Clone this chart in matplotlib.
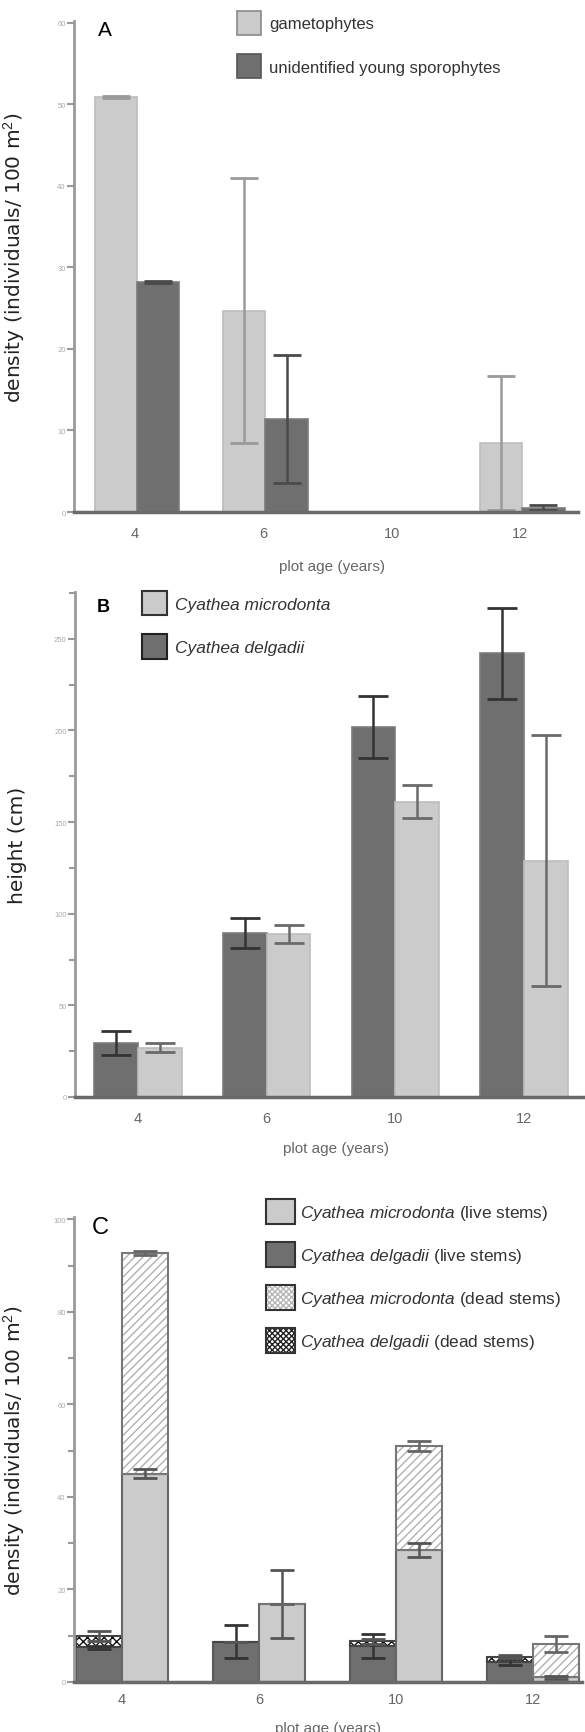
import matplotlib
matplotlib.use("Agg")
import matplotlib.pyplot as plt
import numpy as np
from matplotlib.patches import Patch

plt.rcParams["font.family"] = ["Liberation Sans", "DejaVu Sans"]
plt.rcParams["mathtext.fontset"] = "custom"
plt.rcParams["mathtext.rm"] = "Liberation Sans"
plt.rcParams["mathtext.it"] = "Liberation Sans:italic"
plt.rcParams["hatch.linewidth"] = 1.0

# data
ages = ["4", "6", "10", "12"]

# A: density of gametophytes / young sporophytes
gameto = [50.9, 24.7, 0.0, 8.5]
gameto_err = [0.1, 16.2, 0.0, 8.2]
spor = [28.2, 11.4, 0.0, 0.5]
spor_err = [0.1, 7.8, 0.0, 0.3]

# B: height (cm)
delg_h = [29.5, 89.5, 202.0, 242.0]
delg_h_err = [6.5, 8.0, 17.0, 25.0]
micro_h = [27.0, 89.0, 161.0, 129.0]
micro_h_err = [2.5, 5.0, 9.0, 68.7]

# C: stem density
delg_live = [7.5, 8.7, 7.7, 4.3]
delg_live_err = [0.3, 3.6, 2.6, 0.6]
delg_dead = [2.4, 0.0, 1.1, 1.2]
delg_tot_err = [1.1, 0.0, 0.5, 0.4]
micro_live = [45.0, 16.9, 28.6, 1.0]
micro_live_err = [1.0, 7.4, 1.5, 0.3]
micro_dead = [47.7, 0.0, 22.4, 7.2]
micro_tot_err = [0.5, 0.0, 1.1, 1.7]

LIGHT = "#cbcbcb"
DARK = "#6f6f6f"
W, H = 585, 1733
YLAB = dict(fontsize=14.5, color="#222222", family=["DejaVu Sans"])

fig = plt.figure(figsize=(W / 100, H / 100), dpi=100)


def style_axes(ax, ymax, major, minor=None):
    for s in ["top", "right"]:
        ax.spines[s].set_visible(False)
    ax.spines["left"].set_color("#9a9a9a")
    ax.spines["left"].set_linewidth(2)
    ax.spines["bottom"].set_color("#6a6a6a")
    ax.spines["bottom"].set_linewidth(2.5)
    ax.set_ylim(0, ymax)
    ax.set_yticks(np.arange(0, ymax + 0.01, major))
    if minor:
        ax.set_yticks(np.arange(0, ymax + 0.01, minor), minor=True)
        ax.tick_params(axis="y", which="minor", length=4, width=1.5, color="#999999")
    ax.tick_params(axis="y", which="major", length=5, width=1.5, color="#999999",
                   labelsize=5.5, labelcolor="#aaaaaa", pad=1)
    ax.tick_params(axis="x", length=0, labelsize=10.5, labelcolor="#666666", pad=10)
    ax.set_xticks(np.arange(len(ages)))
    ax.set_xticklabels(ages)
    ax.set_xlabel("plot age (years)", fontsize=11, color="#666666")


x = np.arange(len(ages))

# ---------- A ----------
axA = fig.add_axes([74 / W, 1 - 513 / H, 504 / W, 491 / H])
bw = 0.33
axA.bar(x - bw / 2 + 0.015, gameto, bw, color=LIGHT, edgecolor="#bdbdbd", lw=1.2,
        label="gametophytes")
axA.bar(x + bw / 2 + 0.015, spor, bw, color=DARK, edgecolor="#7c7c7c", lw=1.2,
        label="unidentified young sporophytes")
axA.errorbar(x - bw / 2 + 0.015, gameto, yerr=gameto_err, fmt="none", ecolor="#9a9a9a",
             elinewidth=1.8, capsize=10, capthick=2)
axA.errorbar(x + bw / 2 + 0.015, spor, yerr=spor_err, fmt="none", ecolor="#4a4a4a",
             elinewidth=1.8, capsize=10, capthick=2)
axA.set_xlim(-0.475, 3.45)
style_axes(axA, 60.2, 10)
axA.set_ylabel("density (individuals/ 100 m$^2$)", **YLAB)
axA.yaxis.set_label_coords(-0.093, 0.52)
axA.xaxis.set_label_coords(0.512, -0.096)
fig.text(105 / W, 1 - 30 / H, "A", fontsize=15, ha="center", va="center")
legA = [Patch(facecolor=LIGHT, edgecolor="#8a8a8a", lw=1.2, label="gametophytes"),
        Patch(facecolor=DARK, edgecolor="#555555", lw=1.2,
              label="unidentified young sporophytes")]
fig.legend(handles=legA, loc="upper left", bbox_to_anchor=(237 / W, 1 - 12 / H),
           frameon=False, fontsize=12, handlelength=1.44, handleheight=1.86,
           labelspacing=1.14, handletextpad=0.48, borderpad=0, borderaxespad=0,
           labelcolor="#333333")

# ---------- B ----------
axB = fig.add_axes([75 / W, 1 - 1098 / H, 510 / W, 505 / H])
bw = 0.34
axB.bar(x - bw / 2, delg_h, bw, color=DARK, edgecolor="#7c7c7c", lw=1.2)
axB.bar(x + bw / 2, micro_h, bw, color=LIGHT, edgecolor="#bdbdbd", lw=1.2)
axB.errorbar(x - bw / 2, delg_h, yerr=delg_h_err, fmt="none", ecolor="#333333",
             elinewidth=1.8, capsize=11, capthick=2)
axB.errorbar(x + bw / 2, micro_h, yerr=micro_h_err, fmt="none", ecolor="#6a6a6a",
             elinewidth=1.8, capsize=11, capthick=2)
axB.set_xlim(-0.49, 3.475)
style_axes(axB, 275.5, 50, 25)
axB.set_ylabel("height (cm)", **YLAB)
axB.yaxis.set_label_coords(-0.094, 0.5)
axB.xaxis.set_label_coords(0.512, -0.087)
fig.text(103 / W, 1 - 608 / H, "B", fontsize=13, fontweight="bold", ha="center", va="center")
legB = [Patch(facecolor=LIGHT, edgecolor="#333333", lw=1.5, label="Cyathea microdonta"),
        Patch(facecolor=DARK, edgecolor="#222222", lw=1.5, label="Cyathea delgadii")]
fig.legend(handles=legB, loc="upper left", bbox_to_anchor=(142 / W, 1 - 592 / H),
           frameon=False, prop={"size": 12.5, "style": "italic"}, handlelength=1.43,
           handleheight=1.79, labelspacing=1.09, handletextpad=0.46, borderpad=0,
           borderaxespad=0, labelcolor="#333333")

# ---------- C ----------
axC = fig.add_axes([74 / W, 1 - 1683 / H, 508 / W, 465 / H])
bw = 0.335
xd = x - bw / 2
xm = x + bw / 2
delg_tot = np.array(delg_live) + np.array(delg_dead)
micro_tot = np.array(micro_live) + np.array(micro_dead)
axC.bar(xd, delg_live, bw, color=DARK, edgecolor="#5a5a5a", lw=1.5)
axC.bar(xd, delg_dead, bw, bottom=delg_live, color="white", edgecolor="#111111",
        lw=0, hatch="xxxx")
axC.bar(xd, delg_dead, bw, bottom=delg_live, fill=False, edgecolor="#444444", lw=1.5)
axC.bar(xm, micro_live, bw, color=LIGHT, edgecolor="#666666", lw=1.5)
axC.bar(xm, micro_dead, bw, bottom=micro_live, color="white", edgecolor="#b0b0b0",
        lw=0, hatch="////")
axC.bar(xm, micro_dead, bw, bottom=micro_live, fill=False, edgecolor="#777777", lw=1.5)
axC.errorbar(xd, delg_live, yerr=delg_live_err, fmt="none", ecolor="#333333",
             elinewidth=1.8, capsize=8.5, capthick=2)
axC.errorbar(xd, delg_tot, yerr=delg_tot_err, fmt="none", ecolor="#555555",
             elinewidth=1.8, capsize=8.5, capthick=2)
axC.errorbar(xm, micro_live, yerr=micro_live_err, fmt="none", ecolor="#555555",
             elinewidth=1.8, capsize=8.5, capthick=2)
axC.errorbar(xm, micro_tot, yerr=micro_tot_err, fmt="none", ecolor="#666666",
             elinewidth=1.8, capsize=8.5, capthick=2)
axC.set_xlim(-0.35, 3.36)
style_axes(axC, 100.5, 20, 10)
axC.tick_params(axis="x", pad=7)
axC.set_ylabel("density (individuals/ 100 m$^2$)", **YLAB)
axC.yaxis.set_label_coords(-0.0925, 0.5)
axC.xaxis.set_label_coords(0.5, -0.084)
fig.text(100 / W, 1 - 1228 / H, "C", fontsize=17, ha="center", va="center")
outline = "#333333"
legC = [
    Patch(facecolor=LIGHT, edgecolor=outline, lw=1.5),
    Patch(facecolor=DARK, edgecolor=outline, lw=1.5),
    (Patch(facecolor="white", edgecolor="#b5b5b5", lw=0, hatch="xxxxxx"),
     Patch(fill=False, edgecolor=outline, lw=1.5)),
    (Patch(facecolor="white", edgecolor="#222222", lw=0, hatch="xxxxxx"),
     Patch(fill=False, edgecolor=outline, lw=1.5)),
]
labC = [r"$\it{Cyathea\ microdonta}$ (live stems)",
        r"$\it{Cyathea\ delgadii}$ (live stems)",
        r"$\it{Cyathea\ microdonta}$ (dead stems)",
        r"$\it{Cyathea\ delgadii}$ (dead stems)"]
fig.legend(legC, labC, loc="upper left", bbox_to_anchor=(266 / W, 1 - 1200 / H),
           frameon=False, fontsize=12.4, handlelength=1.68, handleheight=1.86,
           labelspacing=1.05, handletextpad=0.3, borderpad=0, borderaxespad=0,
           labelcolor="#333333")

fig.savefig("out.png", dpi=100)
